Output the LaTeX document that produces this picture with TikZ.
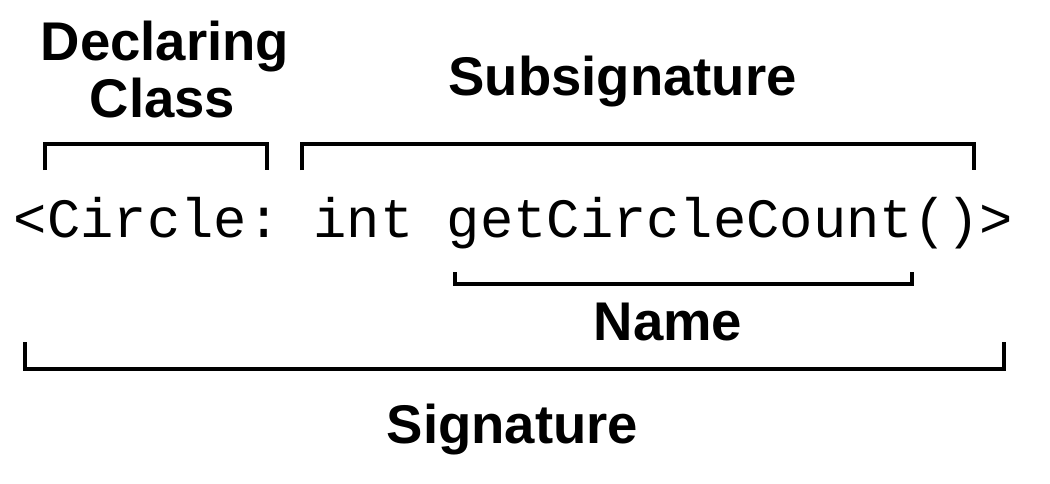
\documentclass[tikz,border=0pt]{standalone}
\usepackage{fontspec}
\setsansfont{Liberation Sans}
\setmonofont{Liberation Mono}
\begin{document}
\begin{tikzpicture}[x=1pt,y=-1pt,
  lbl/.style={anchor=base,inner sep=0pt,font=\sffamily\bfseries\fontsize{54.5}{58}\selectfont},
  code/.style={anchor=base,inner sep=0pt,font=\ttfamily\fontsize{55.5}{60}\selectfont},
  brk/.style={draw=black,line width=4.3pt,line join=miter,line cap=butt}]
\useasboundingbox (0,0) rectangle (1050,483);
% labels
\node[lbl] (decl) at (165,60) {Declaring};
\node[lbl] (cls) at (162.5,117) {Class};
\node[lbl] (subsig) at (622.5,95) {Subsignature};
\node[lbl] (name) at (668,340) {Name};
\node[lbl] (sig) at (512.5,443) {Signature};
\node[code] (sigtext) at (513.5,237) {<Circle: int getCircleCount()>};
% bracket corners
\coordinate (dA) at (45,170); \coordinate (dB) at (45,144);
\coordinate (dC) at (267,144); \coordinate (dD) at (267,170);
\coordinate (sA) at (302,170); \coordinate (sB) at (302,144);
\coordinate (sC) at (974,144); \coordinate (sD) at (974,170);
\coordinate (nA) at (455,272); \coordinate (nB) at (455,284);
\coordinate (nC) at (912,284); \coordinate (nD) at (912,272);
\coordinate (gA) at (25,342); \coordinate (gB) at (25,369);
\coordinate (gC) at (1004,369); \coordinate (gD) at (1004,342);
% brackets
\draw[brk] (dA) -- (dB) -- (dC) -- (dD);
\draw[brk] (sA) -- (sB) -- (sC) -- (sD);
\draw[brk] (nA) -- (nB) -- (nC) -- (nD);
\draw[brk] (gA) -- (gB) -- (gC) -- (gD);
\end{tikzpicture}
\end{document}
